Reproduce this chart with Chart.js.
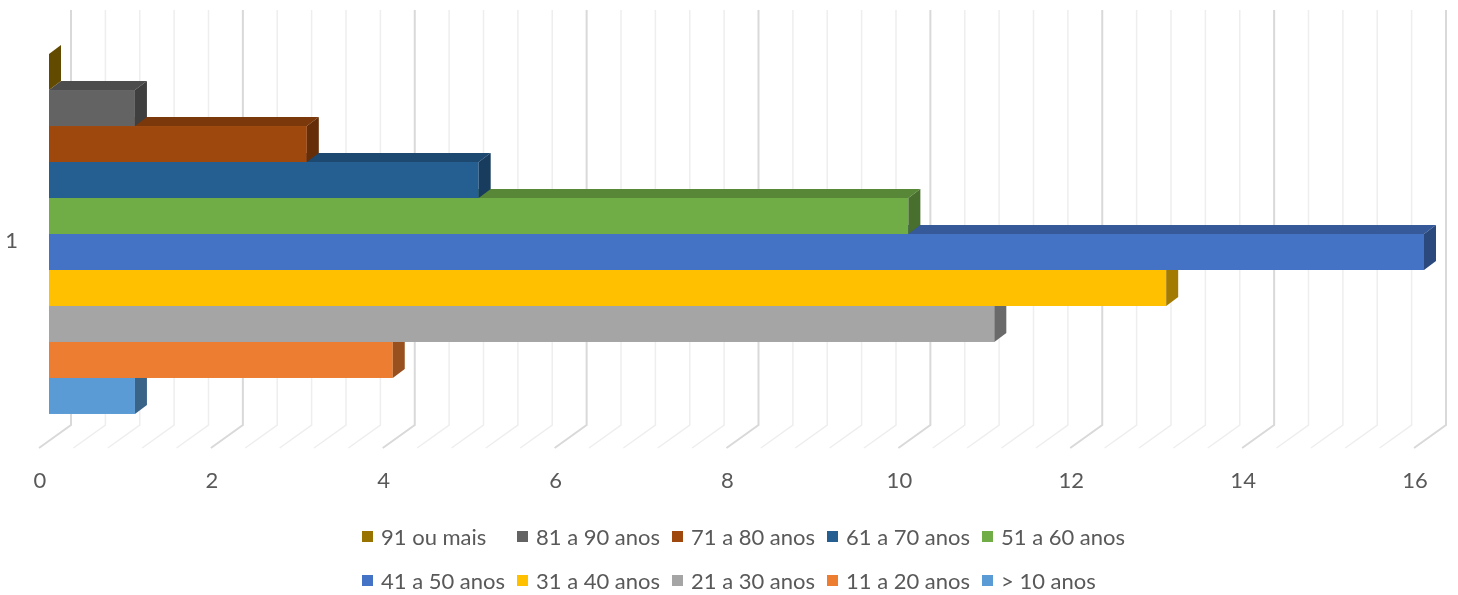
<!DOCTYPE html>
<html lang="pt">
<head>
  <meta charset="UTF-8">
  <title>Faixa etária</title>
  <script src="https://cdn.jsdelivr.net/npm/chart.js"></script>
  <style>
    html, body { margin: 0; padding: 0; background: #fff; }
    #wrap { position: relative; width: 1458px; height: 595px; }
    #legend {
      position: absolute; left: 362px; top: 514px;
      display: grid; grid-template-columns: repeat(5, 155px);
      font-family: Lato, "Noto Sans", sans-serif; font-size: 22px; color: #595959;
    }
    .item { height: 44px; display: flex; align-items: center; white-space: nowrap; }
    .box { width: 11px; height: 11px; margin-right: 8px; flex: none; }
  </style>
</head>
<body>
  <div id="wrap">
    <canvas id="chart" width="1458" height="595"></canvas>
    <div id="legend"></div>
  </div>

  <script>
    // dados (de cima para baixo)
    const categories = ['1'];
    const seriesNames = ['91 ou mais', '81 a 90 anos', '71 a 80 anos', '61 a 70 anos', '51 a 60 anos',
                         '41 a 50 anos', '31 a 40 anos', '21 a 30 anos', '11 a 20 anos', '> 10 anos'];
    const seriesValues = [0, 1, 3, 5, 10, 16, 13, 11, 4, 1];
    const seriesColors = ['#997300', '#636363', '#9e480e', '#255e91', '#70ad47',
                          '#4472c4', '#ffc000', '#a5a5a5', '#ed7d31', '#5b9bd5'];

    function shade(hex, f) {
      const n = parseInt(hex.slice(1), 16);
      const r = Math.round(((n >> 16) & 255) * f);
      const g = Math.round(((n >> 8) & 255) * f);
      const b = Math.round((n & 255) * f);
      return 'rgb(' + r + ',' + g + ',' + b + ')';
    }

    const DX = 12, DY = 9;

    // parede de fundo e chão em 3D
    const gridPlugin = {
      id: 'grid3d',
      beforeDatasetsDraw(chart) {
        const ctx = chart.ctx;
        const xs = chart.scales.x;
        ctx.save();
        for (let i = 0; i <= 40; i++) {
          const p = xs.getPixelForValue(i * 0.4);
          const major = i % 5 === 0;
          ctx.strokeStyle = major ? '#d9d9d9' : '#eeeeee';
          ctx.lineWidth = major ? 2 : 1.5;
          ctx.beginPath();
          ctx.moveTo(p + 22, 10);
          ctx.lineTo(p + 22, 425);
          ctx.lineTo(p - 10, 448);
          ctx.stroke();
        }
        ctx.restore();
      }
    };

    // barras 3D: frente, topo e lateral, de baixo para cima
    const barPlugin = {
      id: 'bars3d',
      beforeDatasetsDraw(chart) {
        const ctx = chart.ctx;
        ctx.save();
        for (let d = chart.data.datasets.length - 1; d >= 0; d--) {
          const meta = chart.getDatasetMeta(d);
          const color = chart.data.datasets[d].backgroundColor;
          meta.data.forEach(el => {
            const { x, y, base, height } = el.getProps(['x', 'y', 'base', 'height'], true);
            const top = y - height / 2, bottom = y + height / 2;
            ctx.fillStyle = color;
            ctx.fillRect(base, top, x - base, height);
            ctx.fillStyle = shade(color, 0.78);
            ctx.beginPath();
            ctx.moveTo(base, top);
            ctx.lineTo(base + DX, top - DY);
            ctx.lineTo(x + DX, top - DY);
            ctx.lineTo(x, top);
            ctx.closePath();
            ctx.fill();
            ctx.fillStyle = shade(color, 0.64);
            ctx.beginPath();
            ctx.moveTo(x, top);
            ctx.lineTo(x + DX, top - DY);
            ctx.lineTo(x + DX, bottom - DY);
            ctx.lineTo(x, bottom);
            ctx.closePath();
            ctx.fill();
          });
        }
        ctx.restore();
        return false;
      }
    };

    const ctx = document.getElementById('chart').getContext('2d');
    const chart = new Chart(ctx, {
      type: 'bar',
      data: {
        labels: categories,
        datasets: seriesNames.map((name, i) => ({
          label: name,
          data: [seriesValues[i]],
          backgroundColor: seriesColors[i],
          barPercentage: 1,
          categoryPercentage: 0.841
        }))
      },
      options: {
        indexAxis: 'y',
        responsive: false,
        animation: false,
        layout: { padding: { top: 20, right: 34, bottom: 97, left: 0 } },
        plugins: { legend: { display: false }, tooltip: { enabled: false } },
        scales: {
          x: {
            min: 0, max: 16,
            grid: { display: false, drawTicks: false },
            border: { display: false },
            ticks: {
              stepSize: 2, padding: 20, labelOffset: -9, color: '#595959',
              font: { family: 'Lato', size: 22 }
            },
            afterFit(s) { s.height = 50; s.paddingLeft = 0; s.paddingRight = 0; }
          },
          y: {
            grid: { display: false, drawTicks: false },
            border: { display: false },
            ticks: {
              padding: 31, labelOffset: 7, color: '#595959',
              font: { family: 'Lato', size: 22 }
            },
            afterFit(s) { s.width = 49; s.paddingTop = 0; s.paddingBottom = 0; }
          }
        }
      },
      plugins: [gridPlugin, barPlugin]
    });

    // legenda em grade, como no original
    const legendEl = document.getElementById('legend');
    chart.data.datasets.forEach(ds => {
      const item = document.createElement('div');
      item.className = 'item';
      const box = document.createElement('span');
      box.className = 'box';
      box.style.background = ds.backgroundColor;
      item.appendChild(box);
      item.appendChild(document.createTextNode(ds.label));
      legendEl.appendChild(item);
    });
  </script>
</body>
</html>
